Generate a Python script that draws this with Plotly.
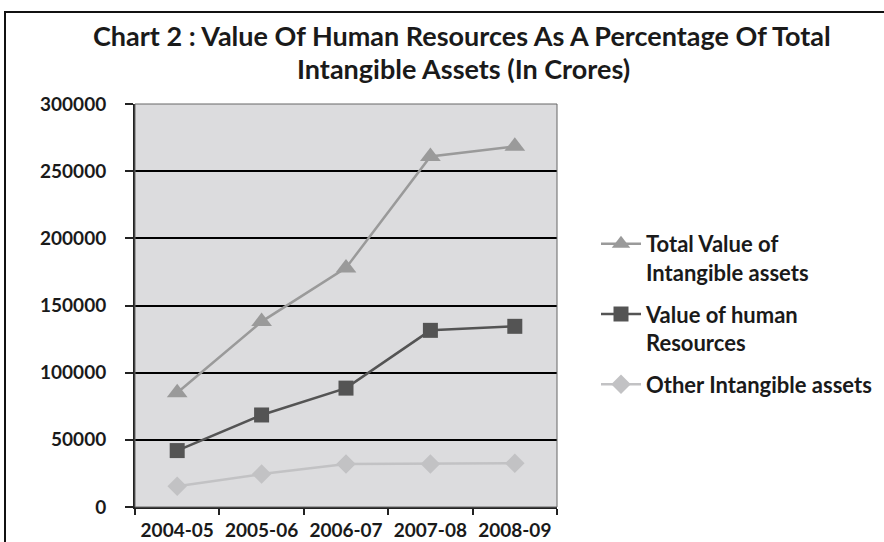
import plotly.graph_objects as go

categories = ["2004-05", "2005-06", "2006-07", "2007-08", "2008-09"]
total_intangible = [85000, 138000, 178000, 261000, 268500]
human_resources = [42000, 68500, 88500, 131500, 134500]
other_intangible = [15500, 24500, 32000, 32000, 32500]
y_ticks = [0, 50000, 100000, 150000, 200000, 250000, 300000]

W, H = 884, 542
ML, MR, MT, MB = 135, 327, 104, 35
PW, PH = W - ML - MR, H - MT - MB

def px_x(px):
    return (px - ML) / PW

def px_y(py):
    return (H - MB - py) / PH

FONT = "Lato"

fig = go.Figure()
fig.add_trace(go.Scatter(
    x=categories, y=total_intangible, mode="lines+markers",
    name="Total Value of<br>Intangible assets", legendgroup="g1",
    line=dict(color="#9a9a9a", width=2.5),
    marker=dict(symbol="triangle-up", size=18, color="#9a9a9a"),
))
fig.add_trace(go.Scatter(
    x=categories, y=human_resources, mode="lines+markers",
    name="Value of human<br>Resources", legendgroup="g2",
    line=dict(color="#545454", width=2.5),
    marker=dict(symbol="square", size=15, color="#545454"),
))
fig.add_trace(go.Scatter(
    x=categories, y=other_intangible, mode="lines+markers",
    name="Other Intangible assets", legendgroup="g3",
    line=dict(color="#c2c2c4", width=2.5),
    marker=dict(symbol="diamond", size=15, color="#c2c2c4"),
))

fig.update_layout(
    width=W, height=H,
    margin=dict(l=ML, r=MR, t=MT, b=MB, pad=0, autoexpand=False),
    paper_bgcolor="white",
    plot_bgcolor="#dcdcde",
    font=dict(family=FONT, color="#1a1a1a"),
    showlegend=True,
    legend=dict(
        x=px_x(596), y=px_y(223), xanchor="left", yanchor="top",
        font=dict(family=FONT, size=22, color="#1a1a1a", weight="bold"),
        valign="top", tracegroupgap=10, traceorder="grouped",
        bgcolor="rgba(0,0,0,0)", itemwidth=40,
    ),
    xaxis=dict(
        type="category", tickson="boundaries", ticks="outside", ticklen=6,
        tickwidth=2, tickcolor="#222", showline=True, linecolor="#222", linewidth=2,
        showgrid=False, mirror=False, ticklabelstandoff=5, automargin=False,
        tickfont=dict(family=FONT, size=19, color="#1a1a1a", weight="bold"),
        range=[-0.5, 4.5],
    ),
    yaxis=dict(
        range=[0, 300000], tickvals=y_ticks, ticktext=[str(v) for v in y_ticks],
        ticks="outside", ticklen=8, tickwidth=2, tickcolor="#222", automargin=False,
        showline=True, linecolor="#222", linewidth=2, ticklabelstandoff=15,
        showgrid=True, gridcolor="#000000", gridwidth=2, zeroline=False,
        tickfont=dict(family=FONT, size=19, color="#1a1a1a", weight="bold"),
    ),
    annotations=[
        dict(text="Chart 2 : Value Of Human Resources As A Percentage Of Total",
             xref="paper", yref="paper", x=px_x(462), y=px_y(36),
             xanchor="center", yanchor="middle", showarrow=False,
             font=dict(family=FONT, size=27, color="#1a1a1a", weight="bold")),
        dict(text="Intangible Assets (In Crores)",
             xref="paper", yref="paper", x=px_x(463), y=px_y(68),
             xanchor="center", yanchor="middle", showarrow=False,
             font=dict(family=FONT, size=27, color="#1a1a1a", weight="bold")),
    ],
    shapes=[
        dict(type="rect", xref="paper", yref="paper",
             x0=px_x(5), x1=px_x(895), y0=px_y(560), y1=px_y(12),
             line=dict(color="#111", width=2), layer="below"),
        dict(type="rect", xref="paper", yref="paper",
             x0=0, x1=1, y0=0, y1=1, line=dict(color="#666", width=1)),
    ],
)

fig.write_html("out.html", config={"displayModeBar": False},
               post_script="document.body.style.margin='0';")
